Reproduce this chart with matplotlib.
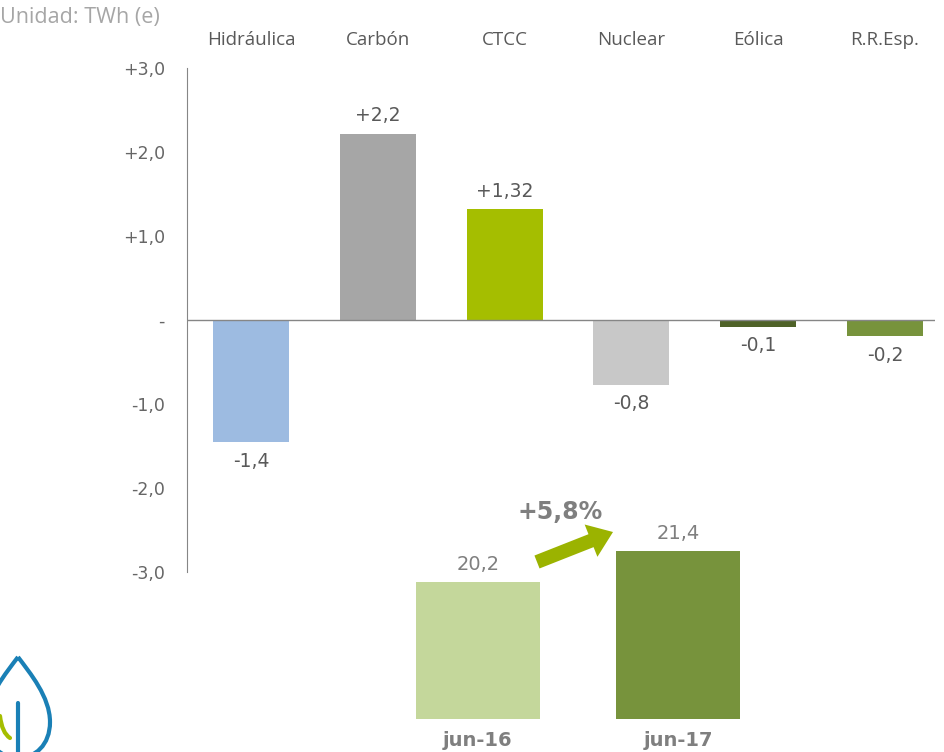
import numpy as np
import matplotlib
matplotlib.use("Agg")
import matplotlib.pyplot as plt
from matplotlib.patches import FancyArrowPatch, PathPatch
from matplotlib.path import Path
from matplotlib.transforms import Affine2D, blended_transform_factory

# data
categories = ["Hidráulica", "Carbón", "CTCC", "Nuclear", "Eólica", "R.R.Esp."]
values = [-1.45, 2.22, 1.32, -0.77, -0.08, -0.19]
value_labels = ["-1,4", "+2,2", "+1,32", "-0,8", "-0,1", "-0,2"]
bar_colors = ["#9DBBE1", "#A6A6A6", "#A5BE00", "#C8C8C8", "#4F6228", "#77933C"]

yticks = [-3, -2, -1, 0, 1, 2, 3]
ytick_labels = ["-3,0", "-2,0", "-1,0", "-", "+1,0", "+2,0", "+3,0"]

periods = ["jun-16", "jun-17"]
totals = [20.2, 21.4]
total_labels = ["20,2", "21,4"]
total_colors = ["#C4D79B", "#77933C"]
growth_label = "+5,8%"

W, H = 945, 752
fig = plt.figure(figsize=(W / 100, H / 100), dpi=100)
# image pixel coords -> figure
px = Affine2D().scale(1 / W, -1 / H).translate(0, 1) + fig.transFigure

gray_txt = "#595959"

#main bar axes
ax = fig.add_axes([187 / W, 1 - 572 / H, (935 - 187) / W, (572 - 68) / H])
x = np.arange(len(categories))
ax.bar(x, values, width=0.6, color=bar_colors, zorder=2)
ax.set_xlim(-0.505, 5.394)
ax.set_ylim(-3, 3)
ax.axhline(0, color="#868686", lw=1, zorder=3)
for s in ["top", "right", "bottom"]:
    ax.spines[s].set_visible(False)
ax.spines["left"].set_color("#868686")
ax.set_xticks([])
ax.set_yticks(yticks)
ax.set_yticklabels(ytick_labels)
ax.tick_params(axis="y", length=0, pad=16, labelsize=12.5, labelcolor="#666666")
ax.patch.set_alpha(0)

for xi, v, lab in zip(x, values, value_labels):
    if v >= 0:
        ax.annotate(lab, (xi, v), xytext=(0, 6), textcoords="offset points",
                    ha="center", va="bottom", fontsize=13.5, color=gray_txt)
    else:
        ax.annotate(lab, (xi, v), xytext=(0, -7), textcoords="offset points",
                    ha="center", va="top", fontsize=13.5, color=gray_txt)

# category names on top
tr = blended_transform_factory(ax.transData, fig.transFigure)
for xi, c in zip(x, categories):
    fig.text(xi, 1 - 40 / H, c, transform=tr, ha="center", va="center",
             fontsize=13.5, family="Open Sans", color=gray_txt)

fig.text(0, 1 - 18 / H, "Unidad: TWh (e)", ha="left", va="center",
         fontsize=15.5, family="Open Sans", color="#A6A6A6")

# totals
ax2 = fig.add_axes([378 / W, 1 - 719 / H, 400 / W, 219 / H])
xb = np.arange(len(periods))
ax2.bar(xb, totals, width=0.62, color=total_colors)
ax2.set_xlim(-0.5, 1.5)
ax2.set_ylim(14.9, 23.38)
ax2.axis("off")
for xi, v, lab in zip(xb, totals, total_labels):
    ax2.annotate(lab, (xi, v), xytext=(0, 6), textcoords="offset points",
                 ha="center", va="bottom", fontsize=14, color="#7F7F7F")
trb = blended_transform_factory(ax2.transData, fig.transFigure)
for xi, p in zip(xb, periods):
    fig.text(xi, 1 - 741 / H, p, transform=trb, ha="center", va="center",
             fontsize=14, fontweight="bold", color="#7F7F7F")

arrow = FancyArrowPatch((537 / W, 1 - 562 / H), (613 / W, 1 - 532 / H),
                        transform=fig.transFigure,
                        arrowstyle="simple,head_length=17,head_width=25,tail_width=10",
                        mutation_scale=1, shrinkA=0, shrinkB=0,
                        color="#9BB300", lw=0)
fig.add_artist(arrow)
fig.text(560 / W, 1 - 512 / H, growth_label, ha="center", va="center",
         fontsize=17, fontweight="bold", color="#7F7F7F")

# logo (drop)
drop = Path([(18, 657), (30, 673), (50, 697), (50, 722),
             (50, 745), (35, 758), (18, 758),
             (1, 758), (-14, 745), (-14, 722),
             (-14, 697), (6, 673), (18, 657)],
            [Path.MOVETO] + [Path.CURVE4] * 12)
fig.add_artist(PathPatch(drop, transform=px, fill=False, ec="#1A80B6", lw=3))
stem = Path([(18, 703), (18, 755)], [Path.MOVETO, Path.LINETO])
fig.add_artist(PathPatch(stem, transform=px, fill=False, ec="#1A80B6", lw=3,
                         capstyle="round"))
leaf = Path([(0, 716), (2, 733), (10, 738)], [Path.MOVETO, Path.CURVE3, Path.CURVE3])
fig.add_artist(PathPatch(leaf, transform=px, fill=False, ec="#A5BE00", lw=3,
                         capstyle="round"))

fig.savefig("out.png", dpi=100)
